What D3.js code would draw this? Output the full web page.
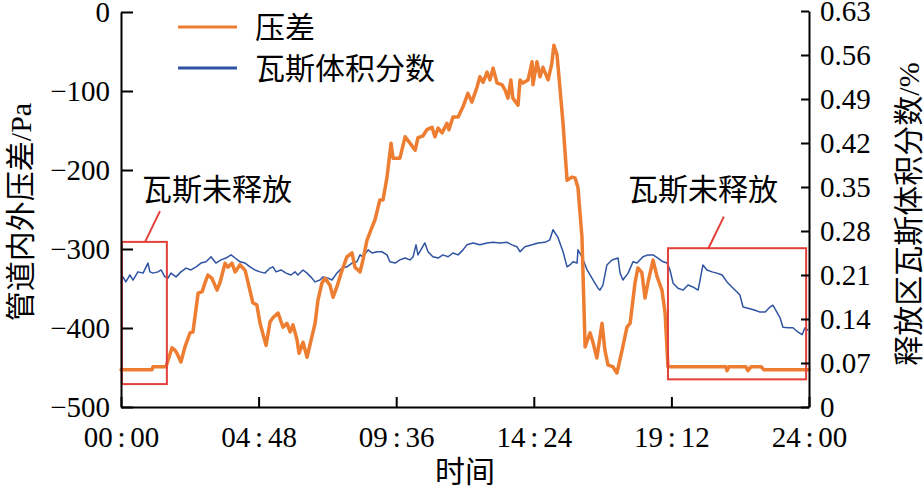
<!DOCTYPE html>
<html>
<head>
<meta charset="utf-8">
<script src="https://cdn.jsdelivr.net/npm/d3@7"></script>
<style>
  html, body { margin: 0; padding: 0; background: #fff; }
  svg { display: block; }
  text { font-family: 'Liberation Serif', 'Noto Sans CJK SC', serif; fill: #000; }
</style>
</head>
<body>
<svg id="chart" width="924" height="487"></svg>
<script>
// ---------- DATA ----------
const seriesNames = ["压差", "瓦斯体积分数"];
const xTitle = "时间";
const leftTitle = "管道内外压差/Pa";
const rightTitle = "释放区瓦斯体积分数/%";
const annotationText = "瓦斯未释放";

const timeTicks = [0, 4.8, 9.6, 14.4, 19.2, 24];
const timeTickLabels = ["00:00", "04:48", "09:36", "14:24", "19:12", "24:00"];
const pressureTicks = [0, -100, -200, -300, -400, -500];
const gasTicks = [0, 0.07, 0.14, 0.21, 0.28, 0.35, 0.42, 0.49, 0.56, 0.63];

// pressure difference (Pa) vs time (h)
const pressureTime = [0,1.08,1.12,1.57,1.78,1.88,1.95,2.09,2.23,2.41,2.51,2.69,2.83,2.93,3.03,3.17,3.35,3.45,3.63,3.73,3.87,3.98,4.15,4.33,4.60,4.74,4.85,5.06,5.20,5.30,5.48,5.65,5.79,5.90,6.00,6.14,6.21,6.35,6.49,6.66,6.77,6.87,7.01,7.12,7.29,7.40,7.53,7.71,7.88,8.06,8.16,8.34,8.44,8.58,8.76,8.86,9.03,9.14,9.28,9.42,9.49,9.73,9.91,10.08,10.26,10.36,10.53,10.67,10.85,10.95,11.06,11.20,11.37,11.44,11.58,11.76,11.93,12.10,12.24,12.42,12.52,12.63,12.77,12.87,12.98,13.12,13.29,13.40,13.50,13.60,13.67,13.85,13.92,14.02,14.20,14.34,14.37,14.51,14.62,14.72,14.90,15.03,15.10,15.21,15.42,15.56,15.73,15.84,15.94,16.08,16.19,16.36,16.47,16.60,16.78,16.88,16.99,17.16,17.30,17.48,17.65,17.76,17.93,18.03,18.17,18.28,18.38,18.56,18.70,18.87,18.98,19.08,21.10,21.14,21.21,21.80,21.87,21.98,22.33,22.43,24.00];
const pressureValue = [-453,-453,-449,-449,-425,-428,-432,-443,-424,-406,-405,-356,-354,-343,-333,-337,-352,-343,-318,-323,-318,-329,-320,-327,-368,-371,-394,-422,-392,-387,-381,-399,-394,-405,-396,-415,-432,-418,-437,-411,-394,-365,-343,-337,-346,-361,-348,-327,-310,-305,-323,-329,-314,-289,-272,-263,-238,-238,-209,-166,-185,-185,-158,-166,-175,-159,-157,-149,-146,-158,-147,-153,-141,-149,-133,-133,-120,-103,-114,-95,-82,-89,-76,-86,-71,-90,-92,-99,-109,-86,-109,-118,-86,-90,-86,-63,-92,-63,-82,-70,-86,-65,-42,-54,-141,-213,-209,-210,-222,-285,-424,-406,-419,-438,-394,-428,-447,-449,-457,-428,-399,-394,-343,-324,-330,-362,-343,-314,-335,-352,-381,-449,-449,-454,-449,-449,-454,-449,-449,-453,-453];

// gas volume fraction (%) vs time (h)
const gasTime = [0,0.07,0.17,0.31,0.42,0.59,0.77,0.94,1.01,1.12,1.29,1.40,1.53,1.64,1.74,1.92,2.09,2.27,2.44,2.62,2.79,2.97,3.14,3.31,3.49,3.66,3.84,3.98,4.15,4.33,4.50,4.67,4.85,5.02,5.20,5.30,5.41,5.58,5.76,5.93,6.07,6.17,6.35,6.49,6.66,6.77,6.94,7.05,7.22,7.36,7.53,7.71,7.88,8.06,8.23,8.34,8.44,8.62,8.76,8.93,9.10,9.28,9.38,9.56,9.73,9.91,10.08,10.19,10.29,10.36,10.50,10.60,10.71,10.88,11.06,11.23,11.41,11.58,11.76,11.93,12.07,12.28,12.52,12.77,12.98,13.22,13.47,13.64,13.81,13.92,14.09,14.34,14.55,14.79,14.96,15.07,15.24,15.42,15.56,15.66,15.77,15.91,15.94,16.08,16.26,16.47,16.64,16.71,16.81,16.95,17.13,17.34,17.41,17.51,17.69,17.86,18.00,18.21,18.38,18.56,18.73,18.91,19.05,19.15,19.26,19.43,19.61,19.78,19.95,20.13,20.20,20.30,20.44,20.62,20.79,20.97,21.14,21.31,21.49,21.59,21.70,21.87,22.12,22.29,22.47,22.64,22.74,22.88,22.99,23.09,23.27,23.44,23.62,23.76,23.86,23.97];
const gasValue = [0.197,0.207,0.199,0.210,0.202,0.215,0.213,0.229,0.215,0.213,0.215,0.218,0.207,0.205,0.213,0.207,0.215,0.221,0.218,0.223,0.229,0.231,0.239,0.229,0.234,0.237,0.242,0.237,0.231,0.229,0.223,0.218,0.215,0.213,0.221,0.223,0.215,0.218,0.213,0.210,0.215,0.210,0.218,0.213,0.205,0.199,0.202,0.207,0.205,0.202,0.213,0.221,0.223,0.229,0.231,0.242,0.239,0.250,0.245,0.247,0.247,0.242,0.231,0.229,0.234,0.237,0.234,0.239,0.258,0.242,0.253,0.261,0.247,0.239,0.237,0.242,0.239,0.245,0.242,0.250,0.258,0.261,0.258,0.261,0.262,0.261,0.262,0.258,0.255,0.247,0.255,0.258,0.261,0.262,0.266,0.282,0.270,0.247,0.223,0.226,0.231,0.229,0.250,0.239,0.218,0.202,0.189,0.186,0.194,0.226,0.234,0.237,0.213,0.202,0.213,0.231,0.229,0.239,0.242,0.242,0.237,0.231,0.229,0.218,0.197,0.189,0.186,0.194,0.191,0.186,0.202,0.226,0.218,0.215,0.213,0.210,0.199,0.191,0.183,0.178,0.159,0.157,0.154,0.151,0.151,0.159,0.162,0.151,0.142,0.127,0.126,0.126,0.119,0.115,0.126,0.122];

// annotation regions in data units: [t0, t1, pressureTop, pressureBottom]
const boxRegions = [[0.03, 1.60, -291, -471], [19.08, 23.90, -299, -465]];
// leader lines: [t0, p0, t1, p1]
const leaderLines = [[1.36, -252, 0.84, -291], [21.03, -259, 20.48, -300]];
// annotation text anchor: [t, p]
const annotationPos = [[0.73, -225], [17.69, -225]];

// ---------- CHART ----------
const svg = d3.select("#chart");
const orange = "#ED7D31", blue = "#2F53A3", red = "#E2403A";
const numFont = 29, cjkFont = 30;

const x = d3.scaleLinear().domain([0, 24]).range([121, 809]);
const yL = d3.scaleLinear().domain([-500, 0]).range([407, 12]);
const yR = d3.scaleLinear().domain([0, 0.63]).range([407, 11]);

const pressure = pressureTime.map((t, i) => [t, pressureValue[i]]);
const gas = gasTime.map((t, i) => [t, gasValue[i]]);

// lines
svg.append("path").datum(gas)
  .attr("fill", "none").attr("stroke", blue).attr("stroke-width", 1.5)
  .attr("stroke-linejoin", "round")
  .attr("d", d3.line().x(d => x(d[0])).y(d => yR(d[1])));

svg.append("path").datum(pressure)
  .attr("fill", "none").attr("stroke", orange).attr("stroke-width", 3.5)
  .attr("stroke-linejoin", "round").attr("stroke-linecap", "round")
  .attr("d", d3.line().x(d => x(d[0])).y(d => yL(d[1])));

// annotation boxes
svg.selectAll("rect.ann").data(boxRegions).join("rect")
  .attr("class", "ann")
  .attr("x", d => x(d[0])).attr("y", d => yL(d[2]))
  .attr("width", d => x(d[1]) - x(d[0])).attr("height", d => yL(d[3]) - yL(d[2]))
  .attr("fill", "none").attr("stroke", red).attr("stroke-width", 2);

svg.selectAll("line.leader").data(leaderLines).join("line")
  .attr("class", "leader")
  .attr("x1", d => x(d[0])).attr("y1", d => yL(d[1]))
  .attr("x2", d => x(d[2])).attr("y2", d => yL(d[3]))
  .attr("stroke", red).attr("stroke-width", 2);

svg.selectAll("text.annText").data(annotationPos).join("text")
  .attr("class", "annText")
  .attr("x", d => x(d[0])).attr("y", d => yL(d[1]))
  .attr("dy", "0.35em")
  .attr("font-size", cjkFont)
  .text(annotationText);

// axes
function styleAxis(g) {
  g.selectAll("path.domain").attr("stroke", "#000").attr("stroke-width", 2);
  g.selectAll(".tick line").attr("stroke", "#000").attr("stroke-width", 2);
  g.selectAll(".tick text").attr("font-size", numFont)
    .attr("font-family", "'Liberation Serif', serif").attr("fill", "#000");
}

const fmtL = v => v === 0 ? "0" : "\u2212" + Math.abs(v);
svg.append("g").attr("transform", "translate(121,0)")
  .call(d3.axisLeft(yL).tickValues(pressureTicks).tickFormat(fmtL)
    .tickSizeInner(-12).tickSizeOuter(0).tickPadding(11))
  .call(styleAxis);

svg.append("g").attr("transform", "translate(809,0)")
  .call(d3.axisRight(yR).tickValues(gasTicks)
    .tickFormat(v => v === 0 ? "0" : d3.format(".2f")(v))
    .tickSizeInner(-8).tickSizeOuter(0).tickPadding(11))
  .call(styleAxis);

svg.append("g").attr("transform", "translate(0,407)")
  .call(d3.axisBottom(x).tickValues(timeTicks)
    .tickFormat((d, i) => timeTickLabels[i].replace(":", "\u2006:\u2006"))
    .tickSizeInner(-10).tickSizeOuter(0).tickPadding(19))
  .call(styleAxis);

// axis titles
svg.append("text").attr("x", 465).attr("y", 482)
  .attr("text-anchor", "middle").attr("font-size", cjkFont).text(xTitle);

svg.append("text")
  .attr("transform", "translate(31,212) rotate(-90)")
  .attr("text-anchor", "middle").attr("font-size", cjkFont).text(leftTitle);

svg.append("text")
  .attr("transform", "translate(919,214) rotate(-90)")
  .attr("text-anchor", "middle").attr("font-size", cjkFont).text(rightTitle);

// legend
const legend = svg.append("g");
const legendY = [27, 68];
const legendColors = [orange, blue];
seriesNames.forEach((name, i) => {
  legend.append("line").attr("x1", 178).attr("x2", 237)
    .attr("y1", legendY[i]).attr("y2", legendY[i])
    .attr("stroke", legendColors[i]).attr("stroke-width", 3);
  legend.append("text").attr("x", 255).attr("y", legendY[i]).attr("dy", "0.35em")
    .attr("font-size", cjkFont).text(name);
});
</script>
</body>
</html>
